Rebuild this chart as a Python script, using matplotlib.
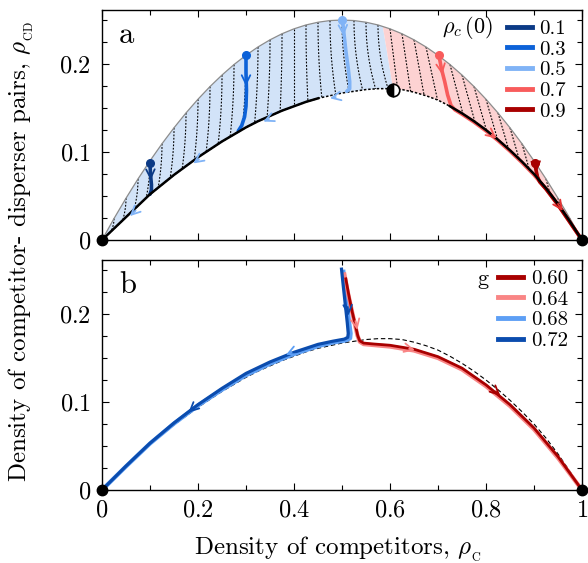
import numpy as np
import matplotlib
matplotlib.use('Agg')
import matplotlib.pyplot as plt
from matplotlib.lines import Line2D
from matplotlib.patches import Polygon
from matplotlib.ticker import MultipleLocator, FixedLocator, FixedFormatter

plt.rcParams['font.family'] = ['cmr10', 'DejaVu Serif']
plt.rcParams['mathtext.fontset'] = 'cm'
plt.rcParams['axes.unicode_minus'] = False

# ---------------- data ----------------
rho_c_grid = [0.000, 0.025, 0.050, 0.075, 0.100, 0.125, 0.150, 0.175, 0.200, 0.225,
              0.250, 0.275, 0.300, 0.325, 0.350, 0.375, 0.400, 0.425, 0.450, 0.475,
              0.500, 0.525, 0.550, 0.575, 0.600, 0.625, 0.650, 0.675, 0.700, 0.725,
              0.750, 0.775, 0.800, 0.825, 0.850, 0.875, 0.900, 0.925, 0.950, 0.975, 1.000]
upper_cd = [0.0000, 0.0244, 0.0475, 0.0694, 0.0900, 0.1094, 0.1275, 0.1444, 0.1600, 0.1744,
            0.1875, 0.1994, 0.2100, 0.2194, 0.2275, 0.2344, 0.2400, 0.2444, 0.2475, 0.2494,
            0.2500, 0.2494, 0.2475, 0.2444, 0.2400, 0.2344, 0.2275, 0.2194, 0.2100, 0.1994,
            0.1875, 0.1744, 0.1600, 0.1444, 0.1275, 0.1094, 0.0900, 0.0694, 0.0475, 0.0244, 0.0000]
lower_cd = [0.000, 0.013, 0.026, 0.039, 0.052, 0.063, 0.074, 0.084, 0.094, 0.103,
            0.112, 0.120, 0.128, 0.135, 0.141, 0.147, 0.152, 0.157, 0.161, 0.164,
            0.167, 0.169, 0.171, 0.172, 0.172, 0.171, 0.168, 0.164, 0.159, 0.152,
            0.144, 0.135, 0.125, 0.114, 0.102, 0.089, 0.075, 0.059, 0.041, 0.021, 0.000]

saddle_x, saddle_y = 0.607, 0.170
separatrix_top_x = 0.585

# guide trajectories (dotted): start on upper curve, end on lower curve
guide_blue_start = [0.025, 0.05, 0.075, 0.1, 0.125, 0.15, 0.175, 0.2, 0.225, 0.25, 0.275, 0.3,
                    0.325, 0.35, 0.375, 0.4, 0.425, 0.45, 0.475, 0.5, 0.525, 0.55, 0.575]
guide_blue_end = [0.019, 0.043, 0.067, 0.092, 0.117, 0.142, 0.167, 0.192, 0.217, 0.242, 0.267, 0.292,
                  0.318, 0.344, 0.371, 0.400, 0.429, 0.458, 0.487, 0.515, 0.543, 0.570, 0.596]
guide_red_start = [0.6, 0.625, 0.65, 0.675, 0.7, 0.725, 0.75, 0.775, 0.8, 0.825, 0.85, 0.875,
                   0.9, 0.925, 0.95, 0.975]
guide_red_end = [0.616, 0.643, 0.671, 0.699, 0.726, 0.752, 0.777, 0.801, 0.824, 0.847, 0.869, 0.890,
                 0.911, 0.933, 0.955, 0.977]

# panel a trajectories, rho_C(0)
traj_a_labels = ['0.1', '0.3', '0.5', '0.7', '0.9']
traj_a_colors = ['#0b3a86', '#0d62d8', '#80b3f6', '#f85c5c', '#a80000']
t01_x = [0.100, 0.101, 0.103, 0.103, 0.100]
t01_y = [0.088, 0.075, 0.063, 0.057, 0.052]
t03_x = [0.300, 0.300, 0.301, 0.300, 0.297, 0.291, 0.284]
t03_y = [0.210, 0.190, 0.170, 0.152, 0.140, 0.130, 0.124]
t05_x = [0.501, 0.504, 0.508, 0.513, 0.516, 0.516, 0.510]
t05_y = [0.250, 0.235, 0.215, 0.195, 0.180, 0.172, 0.169]
t07_x = [0.702, 0.707, 0.714, 0.720, 0.727, 0.735, 0.750, 0.775, 0.800, 0.825, 0.850, 0.875, 0.900, 0.925, 0.950, 0.975, 1.000]
t07_y = [0.210, 0.195, 0.180, 0.165, 0.153, 0.148, 0.143, 0.134, 0.124, 0.113, 0.101, 0.088, 0.074, 0.058, 0.040, 0.020, 0.000]
t09_x = [0.902, 0.904, 0.907, 0.912, 0.925, 0.950, 0.975, 1.000]
t09_y = [0.088, 0.080, 0.072, 0.066, 0.058, 0.040, 0.020, 0.000]

# panel b trajectories, g
traj_b_labels = ['0.60', '0.64', '0.68', '0.72']
traj_b_colors = ['#a80000', '#f98585', '#5d9ff5', '#0b4cae']
g060_x = [0.508, 0.514, 0.521, 0.528, 0.533, 0.537, 0.545, 0.560, 0.600, 0.650, 0.700, 0.750, 0.800, 0.850, 0.900, 0.950, 1.000]
g060_y = [0.240, 0.222, 0.203, 0.187, 0.175, 0.1695, 0.1670, 0.1662, 0.1645, 0.1600, 0.1515, 0.1385, 0.1195, 0.0970, 0.0705, 0.0380, 0.000]
g064_x = [0.505, 0.512, 0.520, 0.527, 0.532, 0.537, 0.545, 0.560, 0.600, 0.650, 0.700, 0.750, 0.800, 0.850, 0.900, 0.950, 1.000]
g064_y = [0.245, 0.225, 0.205, 0.188, 0.176, 0.1685, 0.1658, 0.1650, 0.1630, 0.1585, 0.1500, 0.1370, 0.1180, 0.0955, 0.0690, 0.0365, 0.000]
g068_x = [0.503, 0.507, 0.511, 0.515, 0.518, 0.517, 0.508, 0.480, 0.450, 0.400, 0.350, 0.300, 0.250, 0.200, 0.150, 0.100, 0.050, 0.000]
g068_y = [0.248, 0.228, 0.208, 0.190, 0.178, 0.1725, 0.1700, 0.1675, 0.1635, 0.1545, 0.1435, 0.1305, 0.1140, 0.0960, 0.0755, 0.0528, 0.0268, 0.000]
g072_x = [0.499, 0.503, 0.507, 0.511, 0.513, 0.512, 0.505, 0.480, 0.450, 0.400, 0.350, 0.300, 0.250, 0.200, 0.150, 0.100, 0.050, 0.000]
g072_y = [0.251, 0.230, 0.210, 0.190, 0.178, 0.1735, 0.1715, 0.1690, 0.1655, 0.1565, 0.1455, 0.1325, 0.1155, 0.0970, 0.0762, 0.0532, 0.0272, 0.000]

fixed_x = [0.0, 1.0]
fixed_y = [0.0, 0.0]

# ---------------- figure ----------------
fig = plt.figure(figsize=(5.88, 5.63), dpi=100)
W, H = 588.0, 563.0
axa = fig.add_axes([102 / W, 1 - 240 / H, 480 / W, 230 / H])
axb = fig.add_axes([102 / W, 1 - 490 / H, 480 / W, 230 / H])

grid = np.array(rho_c_grid)
up = np.array(upper_cd)
lo = np.array(lower_cd)

for ax in (axa, axb):
    ax.set_xlim(0, 1)
    ax.set_ylim(0, 0.2614)
    ax.xaxis.set_major_locator(FixedLocator([0, 0.2, 0.4, 0.6, 0.8, 1.0]))
    ax.xaxis.set_minor_locator(MultipleLocator(0.1))
    ax.yaxis.set_major_locator(FixedLocator([0, 0.1, 0.2]))
    ax.yaxis.set_minor_locator(MultipleLocator(0.025))
    ax.yaxis.set_major_formatter(FixedFormatter(['$0$', '$0.1$', '$0.2$']))
    ax.tick_params(which='both', direction='in', top=True, right=True, width=0.8)
    ax.tick_params(which='major', length=5)
    ax.tick_params(which='minor', length=3.5)
    ax.tick_params(axis='y', which='major', labelsize=17.5, pad=8)
    ax.tick_params(axis='x', which='major', labelsize=17.5, pad=7)
    for s in ax.spines.values():
        s.set_linewidth(1.0)

axa.xaxis.set_major_formatter(FixedFormatter([''] * 6))
axb.xaxis.set_major_formatter(FixedFormatter(['$0$', '$0.2$', '$0.4$', '$0.6$', '$0.8$', '$1$']))


def chevron(ax, x, y, dx, dy, color, lw=1.3):
    ax.annotate('', xy=(x + dx, y + dy), xytext=(x, y),
                arrowprops=dict(arrowstyle='->,head_length=0.45,head_width=0.22', color=color,
                                lw=lw, shrinkA=0, shrinkB=0, mutation_scale=14), zorder=8)


# ---------- panel a ----------
ax = axa
sep_up = np.interp(separatrix_top_x, grid, up)
mask_l = grid < separatrix_top_x
blue_poly = list(zip(grid[mask_l], up[mask_l])) + [(separatrix_top_x, sep_up), (saddle_x, saddle_y)]
mask_lo = grid < saddle_x
blue_poly += list(zip(grid[mask_lo][::-1], lo[mask_lo][::-1]))
ax.add_patch(Polygon(blue_poly, closed=True, facecolor='#d2e3f8', edgecolor='none', zorder=1))
mask_r = grid > separatrix_top_x
red_poly = [(separatrix_top_x, sep_up)] + list(zip(grid[mask_r], up[mask_r]))
mask_lo_r = grid > saddle_x
red_poly += list(zip(grid[mask_lo_r][::-1], lo[mask_lo_r][::-1])) + [(saddle_x, saddle_y)]
ax.add_patch(Polygon(red_poly, closed=True, facecolor='#fdd2d2', edgecolor='none', zorder=1))

t = np.linspace(0, 1, 30)
for starts, ends, p in ((guide_blue_start, guide_blue_end, 2.0), (guide_red_start, guide_red_end, 1.0)):
    for x0, x1 in zip(starts, ends):
        y0 = np.interp(x0, grid, up)
        y1 = np.interp(x1, grid, lo)
        xs = x0 + (x1 - x0) * t ** p
        ys = y0 + (y1 - y0) * t
        ax.plot(xs, ys, color='black', lw=0.8, ls=(0, (1.6, 1.4)), zorder=2)

ax.plot(grid, up, color='#8c8c8c', lw=0.9, zorder=3)
ax.plot(grid, lo, color='black', lw=1.1, ls=(0, (1.6, 1.2)), zorder=4)

tr_x = [t01_x, t03_x, t05_x, t07_x, t09_x]
tr_y = [t01_y, t03_y, t05_y, t07_y, t09_y]
for xs, ys, c in zip(tr_x, tr_y, traj_a_colors):
    ax.plot(xs, ys, color=c, lw=2.6, zorder=5, solid_capstyle='round')
    ax.plot(xs[0], ys[0], 'o', color=c, ms=5.5, zorder=6)

m1 = grid <= 0.45
ax.plot(grid[m1], lo[m1], color='black', lw=1.8, zorder=6)
m2 = grid >= 0.725
ax.plot(grid[m2], lo[m2], color='black', lw=1.8, zorder=6)

chevron(ax, 0.101, 0.078, 0.0005, -0.010, traj_a_colors[0])
chevron(ax, 0.300, 0.185, 0.0, -0.010, traj_a_colors[1])
chevron(ax, 0.502, 0.242, 0.001, -0.010, traj_a_colors[2])
chevron(ax, 0.706, 0.198, 0.003, -0.010, traj_a_colors[3])
chevron(ax, 0.904, 0.085, 0.001, -0.008, traj_a_colors[4])
for xa in (0.487, 0.348, 0.202, 0.070):
    ya = np.interp(xa, grid, lo) - 0.003
    xb = xa - 0.012
    yb = np.interp(xb, grid, lo) - 0.003
    chevron(ax, xa, ya, xb - xa, yb - ya, traj_a_colors[2])
for xa, c in ((0.812, traj_a_colors[3]), (0.950, '#e53030')):
    ya = np.interp(xa, grid, lo)
    xb = xa + 0.010
    yb = np.interp(xb, grid, lo)
    chevron(ax, xa, ya, xb - xa, yb - ya, c)

ax.plot(fixed_x, fixed_y, 'o', color='black', ms=7.5, clip_on=False, zorder=10)
ax.plot([saddle_x], [saddle_y], 'o', ms=9, fillstyle='left', markerfacecolor='black',
        markerfacecoloralt='white', markeredgecolor='black', markeredgewidth=1.2, zorder=10)

ax.text(0.035, 0.857, 'a', transform=ax.transAxes, fontsize=22, va='baseline', ha='left')

handles_a = [Line2D([], [], color=c, lw=3.5) for c in traj_a_colors]
leg = ax.legend(handles_a, traj_a_labels, loc='upper right', bbox_to_anchor=(0.985, 1.0),
                frameon=False, fontsize=15, handlelength=1.2, handletextpad=0.35,
                labelspacing=0.1, borderaxespad=0.1, borderpad=0.35)
leg.set_zorder(20)
ax.text(0.815, 0.925, r'$\rho_c\,(0)$', transform=ax.transAxes, fontsize=16, ha='right', va='center')

# ---------- panel b ----------
ax = axb
ax.plot(grid, lo, color='black', lw=0.8, ls=(0, (4, 2.5)), zorder=2)
ax.plot(g068_x, g068_y, color=traj_b_colors[2], lw=3.0, zorder=3)
ax.plot(g064_x, g064_y, color=traj_b_colors[1], lw=3.0, zorder=3)
ax.plot(g072_x, g072_y, color=traj_b_colors[3], lw=2.3, zorder=4)
ax.plot(g060_x, g060_y, color=traj_b_colors[0], lw=2.0, zorder=4)

chevron(axb, 0.512, 0.208, 0.001, -0.010, traj_b_colors[3])
chevron(axb, 0.528, 0.192, 0.004, -0.010, traj_b_colors[1])
chevron(axb, 0.395, 0.1565, -0.012, -0.003, traj_b_colors[2])
chevron(axb, 0.190, 0.093, -0.010, -0.005, traj_b_colors[3])
chevron(axb, 0.640, 0.1605, 0.012, -0.0015, traj_b_colors[1])
chevron(axb, 0.820, 0.112, 0.010, -0.005, traj_b_colors[0])

ax.plot(fixed_x, fixed_y, 'o', color='black', ms=7.5, clip_on=False, zorder=10)
ax.text(0.035, 0.857, 'b', transform=ax.transAxes, fontsize=22, va='baseline', ha='left')

handles_b = [Line2D([], [], color=c, lw=3.5) for c in traj_b_colors]
legb = ax.legend(handles_b, traj_b_labels, loc='upper right', bbox_to_anchor=(0.99, 1.0),
                 frameon=False, fontsize=15, handlelength=1.2, handletextpad=0.35,
                 labelspacing=0.1, borderaxespad=0.1, borderpad=0.35)
ax.text(0.805, 0.915, 'g', transform=ax.transAxes, fontsize=16, ha='right', va='center')

fig.text(338 / W, 1 - 549 / H, r'Density of competitors, $\rho_{_{\rm C}}$', fontsize=18,
         ha='center', va='center')
fig.text(21 / W, 1 - 252 / H, r'Density of competitor- disperser pairs, $\rho_{_{\rm CD}}$',
         fontsize=18, ha='center', va='center', rotation=90)

fig.savefig('out.png', dpi=100)
